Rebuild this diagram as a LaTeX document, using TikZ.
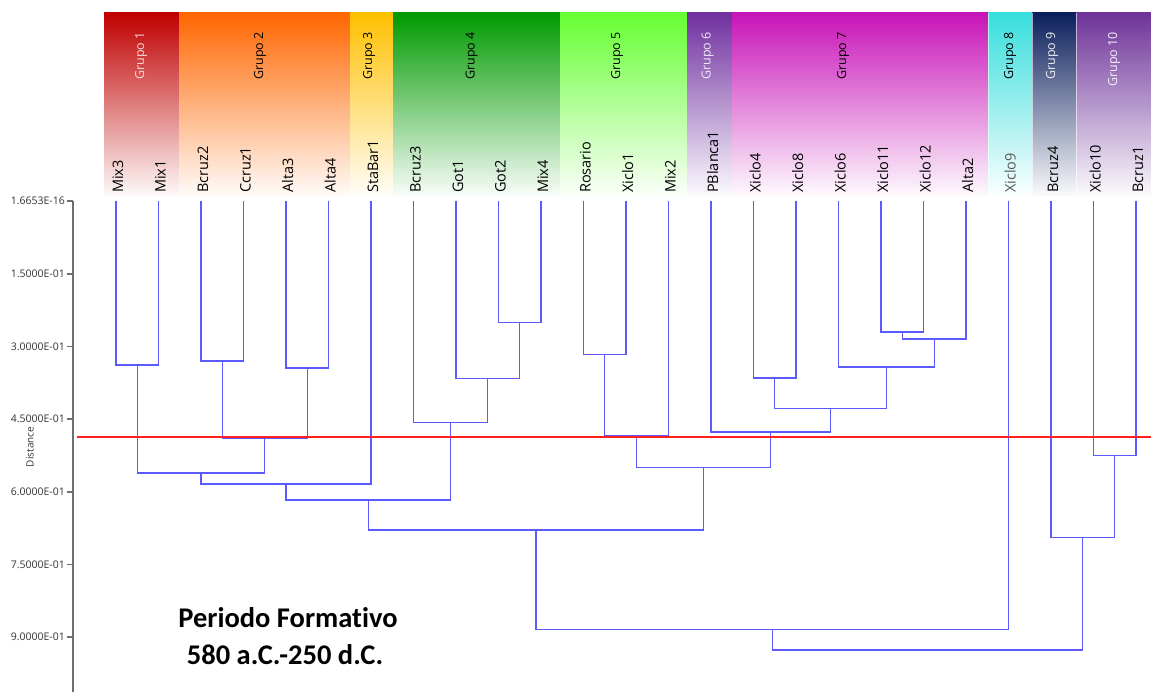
\documentclass[tikz,border=0pt]{standalone}
\usepackage{fontspec}
\setmainfont{Open Sans}
\newfontfamily\titlefont[Ligatures=NoCommon,RawFeature={-liga;-calt;-dlig}]{Carlito}
\usetikzlibrary{calc}

\definecolor{gA}{HTML}{C00000}
\definecolor{gB}{HTML}{FF6600}
\definecolor{gC}{HTML}{FFC000}
\definecolor{gD}{HTML}{009A00}
\definecolor{gE}{HTML}{66FF33}
\definecolor{gF}{HTML}{7030A0}
\definecolor{gG}{HTML}{C814B8}
\definecolor{gH}{HTML}{38DEDE}
\definecolor{gI}{HTML}{0B1F5C}
\definecolor{gJ}{HTML}{6E3399}
\definecolor{treeblue}{RGB}{90,90,255}
\definecolor{cutred}{RGB}{255,32,32}
\definecolor{axisgray}{RGB}{110,110,110}

\tikzset{
  tree/.style={draw=treeblue, line width=1.15pt},
  leaf/.style={rotate=90, anchor=base west, inner sep=0pt,
    font=\fontsize{14.5}{16}\selectfont},
  grp/.style={rotate=90, anchor=east, inner sep=0pt,
    font=\fontsize{12.5}{14}\selectfont},
  axlbl/.style={anchor=east, inner sep=0pt, text=black!80,
    font=\fontsize{10.5}{12}\selectfont},
  title/.style={anchor=base, inner sep=0pt,
    font=\titlefont\bfseries\fontsize{28.5}{32}\selectfont},
}

\begin{document}
\begin{tikzpicture}[x=1pt, y=-1pt]
\useasboundingbox (0,0) rectangle (1151,692);

% group bands fading downwards
\foreach \c/\a/\b in {gA/104/179, gB/179/350, gC/350/393, gD/393/560,
  gE/560/687, gF/687/732, gG/732/988, gH/988/1032, gI/1032/1076, gJ/1076/1151}
  \shade[top color=\c, middle color=\c!42!white, bottom color=\c!2!white]
    (\a,13) rectangle (\b,196);
\foreach \a in {988,1032,1076}
  \draw[white, opacity=0.6, line width=0.8pt] (\a,13) -- (\a,196);

% group titles
\foreach \t/\x/\c in {1/141/gA!15!white, 2/260/black, 3/369/black, 4/471.5/black,
  5/617/black, 6/707.5/gF!10!white, 7/843/black, 8/1010/black,
  9/1052/gI!8!white, 10/1114/gJ!8!white}
  \node[grp, text=\c] (g\t) at (\x,32) {Grupo \t};

% leaves and their labels
\foreach \n [count=\i from 0] in {Mix3,Mix1,Bcruz2,Ccruz1,Alta3,Alta4,StaBar1,
  Bcruz3,Got1,Got2,Mix4,Rosario,Xiclo1,Mix2,PBlanca1,Xiclo4,Xiclo8,Xiclo6,
  Xiclo11,Xiclo12,Alta2,Xiclo9,Bcruz4,Xiclo10,Bcruz1} {
  \coordinate (l\i) at ({116+42.5*\i},201);
  \ifnum\i=21
    \node[leaf, text=black!65] (t\i) at ({123+42.5*\i},193) {\n};
  \else
    \node[leaf] (t\i) at ({123+42.5*\i},193) {\n};
  \fi
}

% merge points (x centre, merge distance)
\coordinate (m1)  at (137.25,365);
\coordinate (m2)  at (222.25,361);
\coordinate (m3)  at (307.25,368);
\coordinate (m4)  at (264.75,438.5);
\coordinate (m5)  at (201,473);
\coordinate (m6)  at (286,484);
\coordinate (m7)  at (519.75,322.5);
\coordinate (m8)  at (487.9,378.5);
\coordinate (m9)  at (450.7,422.5);
\coordinate (m10) at (368.35,500);
\coordinate (m11) at (604.75,354.5);
\coordinate (m12) at (636.6,435.5);
\coordinate (m13) at (902.25,332);
\coordinate (m14) at (934.1,339);
\coordinate (m15) at (774.75,378);
\coordinate (m16) at (886.3,367);
\coordinate (m17) at (830.5,408.5);
\coordinate (m18) at (770.75,432);
\coordinate (m19) at (703.7,467.5);
\coordinate (m20) at (536,530);
\coordinate (m21) at (1114.75,455.5);
\coordinate (m22) at (1082.9,537.5);
\coordinate (m23) at (772.25,629.5);
\coordinate (m24) at (927.6,650);

% dendrogram links
\foreach \c/\p in {l0/m1,l1/m1,l2/m2,l3/m2,l4/m3,l5/m3,m2/m4,m3/m4,
  m1/m5,m4/m5,m5/m6,l6/m6,l9/m7,l10/m7,l8/m8,m7/m8,l7/m9,m8/m9,
  m6/m10,m9/m10,l11/m11,l12/m11,m11/m12,l13/m12,l18/m13,l19/m13,
  m13/m14,l20/m14,l15/m15,l16/m15,l17/m16,m14/m16,m15/m17,m16/m17,
  l14/m18,m17/m18,m12/m19,m18/m19,m10/m20,m19/m20,l23/m21,l24/m21,
  l22/m22,m21/m22,m20/m23,l21/m23,m23/m24,m22/m24}
  \draw[tree] (\c) |- (\p);

% cut line
\coordinate (cutA) at (77,437);
\coordinate (cutB) at (1151,437);
\draw[cutred, line width=2pt] (cutA) -- (cutB);

% distance axis
\coordinate (axTop) at (73,201);
\coordinate (axBot) at (73,692);
\draw[axisgray, line width=1.3pt] (axTop) -- (axBot);
\foreach \v/\y in {1.6653E-16/201, 1.5000E-01/274, 3.0000E-01/346.5,
  4.5000E-01/419, 6.0000E-01/492, 7.5000E-01/564.5, 9.0000E-01/637} {
  \draw[axisgray, line width=1.1pt] (67,\y) -- (73,\y);
  \node[axlbl] at (65,\y) {\v};
}
\node[rotate=90, inner sep=0pt, text=black!80,
  font=\fontsize{10}{12}\selectfont] (dist) at (30,447) {Distance};

% period caption
\node[title] (p1) at (288,627) {Periodo Formativo};
\node[title] (p2) at (285,664) {580 a.C.-250 d.C.};
\end{tikzpicture}
\end{document}
